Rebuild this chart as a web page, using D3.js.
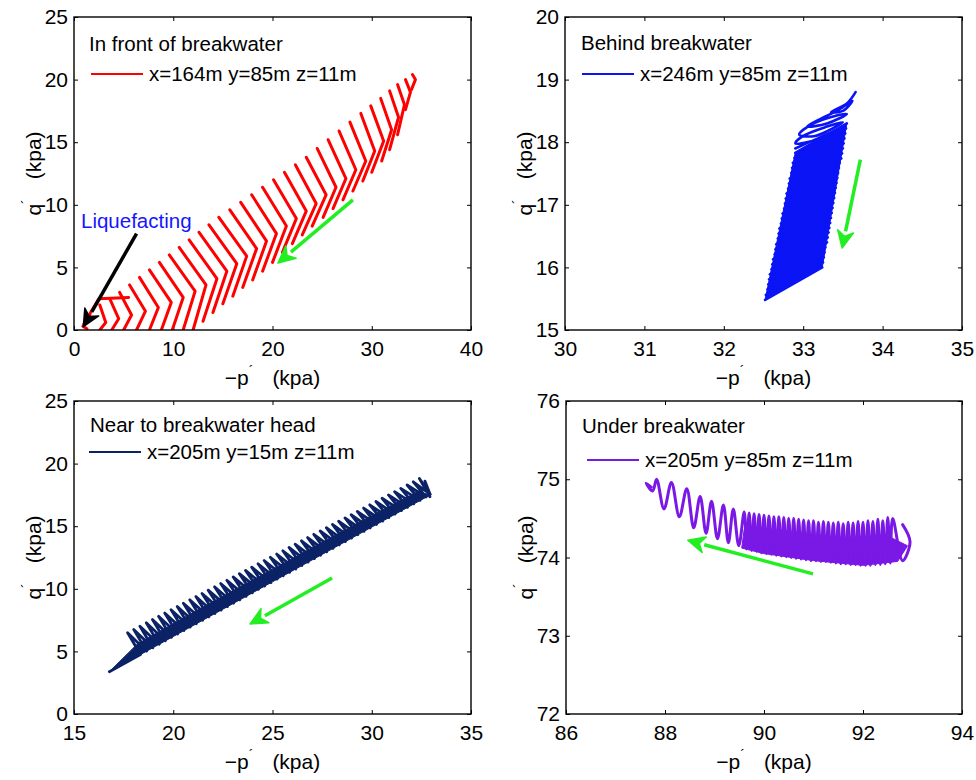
<!DOCTYPE html>
<html>
<head>
<meta charset="utf-8">
<script src="https://cdn.jsdelivr.net/npm/d3@7"></script>
<style>
  body { margin: 0; background: #fff; }
  svg { display: block; }
  text { font-family: "Liberation Sans", Arial, Helvetica, sans-serif; fill: #000; }
</style>
</head>
<body>
<script>
// ---------- data ----------

// panel 1: in front of breakwater, one chevron per cycle [upper tip, vertex, lower end]
const frontTicksX = [0, 10, 20, 30, 40];
const frontTicksY = [0, 5, 10, 15, 20, 25];
const frontCycles = [
  [[34.1, 20.4], [34.4, 20.0], [34.0, 19.2]],
  [[33.4, 20.0], [33.9, 19.0], [33.4, 17.6]],
  [[32.6, 19.6], [33.3, 18.0], [32.6, 15.6]],
  [[31.8, 19.1], [32.7, 17.0], [31.8, 14.4]],
  [[30.9, 18.5], [32.0, 16.0], [31.0, 13.5]],
  [[29.9, 17.9], [31.2, 15.1], [30.0, 12.6]],
  [[28.9, 17.3], [30.3, 14.3], [29.1, 11.9]],
  [[27.8, 16.6], [29.4, 13.5], [28.1, 11.1]],
  [[26.7, 15.9], [28.4, 12.8], [27.1, 10.4]],
  [[25.6, 15.2], [27.4, 12.1], [26.1, 9.7]],
  [[24.5, 14.5], [26.4, 11.4], [25.1, 9.0]],
  [[23.4, 13.8], [25.4, 10.8], [24.0, 8.3]],
  [[22.3, 13.2], [24.4, 10.1], [23.0, 7.6]],
  [[21.2, 12.6], [23.4, 9.5], [22.0, 6.9]],
  [[20.1, 12.0], [22.4, 8.9], [21.0, 6.2]],
  [[19.0, 11.4], [21.4, 8.3], [20.0, 5.4]],
  [[17.9, 10.8], [20.4, 7.7], [19.0, 4.7]],
  [[16.8, 10.2], [19.4, 7.1], [18.0, 4.0]],
  [[15.7, 9.6], [18.4, 6.5], [17.0, 3.4]],
  [[14.6, 9.0], [17.4, 5.9], [16.0, 2.7]],
  [[13.6, 8.4], [16.4, 5.3], [15.0, 2.1]],
  [[12.6, 7.8], [15.4, 4.7], [14.0, 1.4]],
  [[11.6, 7.2], [14.4, 4.1], [13.0, 0.7]],
  [[10.6, 6.6], [13.3, 3.6], [12.0, 0.0]],
  [[9.6, 6.0], [12.2, 3.1], [11.0, 0.0]],
  [[8.6, 5.4], [11.0, 2.6], [9.9, 0.0]],
  [[7.6, 4.8], [9.8, 2.2], [8.8, 0.0]],
  [[6.6, 4.2], [8.5, 1.8], [7.6, 0.0]],
  [[5.6, 3.6], [7.2, 1.5], [6.3, 0.0]],
  [[4.6, 3.0], [5.8, 1.2], [5.0, 0.0]],
  [[3.6, 2.5], [4.5, 0.9], [3.8, 0.0]],
  [[2.6, 2.0], [3.2, 0.6], [2.6, 0.0]]
];
const frontTail = [[5.5, 2.6], [2.5, 2.5], [1.0, 0.5], [1.6, 1.2], [0.9, 0.3], [1.3, 0.1]];

// panel 2: behind breakwater, tangled start then cycles between the two edges
const behindTicksX = [30, 31, 32, 33, 34, 35];
const behindTicksY = [15, 16, 17, 18, 19, 20];
const behindStart = [
  [33.66, 18.80], [33.55, 18.62], [33.35, 18.48], [33.50, 18.50], [33.62, 18.66],
  [33.45, 18.52], [33.20, 18.36], [33.05, 18.25], [33.30, 18.30], [33.55, 18.45],
  [33.40, 18.42], [33.10, 18.28], [32.95, 18.12], [33.15, 18.10], [33.50, 18.32],
  [33.30, 18.25], [33.00, 18.10], [32.90, 17.98], [33.20, 18.05], [33.52, 18.25],
  [32.90, 17.90]
];
const behindLeft = [
  [32.90, 17.83], [32.89, 17.75], [32.87, 17.67], [32.86, 17.59], [32.85, 17.51],
  [32.83, 17.42], [32.82, 17.34], [32.81, 17.26], [32.79, 17.18], [32.78, 17.10],
  [32.77, 17.02], [32.76, 16.94], [32.74, 16.86], [32.73, 16.78], [32.72, 16.70],
  [32.70, 16.62], [32.69, 16.54], [32.68, 16.46], [32.66, 16.37], [32.65, 16.29],
  [32.64, 16.21], [32.62, 16.13], [32.61, 16.05], [32.60, 15.97], [32.58, 15.89],
  [32.57, 15.81], [32.56, 15.73], [32.55, 15.65], [32.53, 15.56], [32.52, 15.48]
];
const behindRight = [
  [33.55, 18.30], [33.54, 18.22], [33.53, 18.14], [33.52, 18.06], [33.51, 17.98],
  [33.50, 17.90], [33.49, 17.82], [33.48, 17.74], [33.46, 17.67], [33.45, 17.59],
  [33.44, 17.51], [33.43, 17.43], [33.42, 17.35], [33.41, 17.27], [33.40, 17.19],
  [33.39, 17.11], [33.38, 17.03], [33.37, 16.95], [33.36, 16.87], [33.35, 16.79],
  [33.34, 16.71], [33.33, 16.63], [33.32, 16.56], [33.31, 16.48], [33.30, 16.40],
  [33.28, 16.32], [33.27, 16.24], [33.26, 16.16], [33.25, 16.08], [33.24, 16.00]
];
// outline of the region the overlapping cycles cover completely
const behindDense = [[32.90, 17.83], [33.55, 18.30], [33.24, 16.00], [32.52, 15.48], [32.90, 17.83]];

// panel 3: near to breakwater head, upper tips and lower turning points per cycle
const headTicksX = [15, 20, 25, 30, 35];
const headTicksY = [0, 5, 10, 15, 20, 25];
const headStart = [[32.93, 17.60], [32.68, 18.60], [32.93, 17.35]];
const headTop = [
  [32.40, 18.81], [32.09, 18.55], [31.78, 18.29], [31.46, 18.02], [31.15, 17.76],
  [30.84, 17.50], [30.52, 17.23], [30.21, 16.97], [29.90, 16.71], [29.59, 16.45],
  [29.27, 16.18], [28.96, 15.92], [28.65, 15.66], [28.33, 15.40], [28.02, 15.14],
  [27.71, 14.88], [27.40, 14.62], [27.08, 14.35], [26.77, 14.09], [26.46, 13.83],
  [26.14, 13.56], [25.83, 13.30], [25.52, 13.04], [25.21, 12.78], [24.89, 12.52],
  [24.58, 12.26], [24.27, 12.00], [23.95, 11.73], [23.64, 11.47], [23.33, 11.21],
  [23.02, 10.95], [22.70, 10.68], [22.39, 10.42], [22.08, 10.16], [21.76, 9.89],
  [21.45, 9.63], [21.14, 9.38], [20.83, 9.12], [20.51, 8.85], [20.20, 8.59],
  [19.89, 8.33], [19.57, 8.06], [19.26, 7.80], [18.95, 7.54], [18.64, 7.28],
  [18.32, 7.01], [18.01, 6.75], [17.70, 6.49]
];
const headBottom = [
  [32.95, 17.55], [32.74, 17.33], [32.43, 17.06], [32.11, 16.78], [31.80, 16.51],
  [31.49, 16.24], [31.17, 15.96], [30.86, 15.68], [30.55, 15.41], [30.24, 15.14],
  [29.92, 14.86], [29.61, 14.59], [29.30, 14.32], [28.98, 14.05], [28.67, 13.77],
  [28.36, 13.50], [28.05, 13.23], [27.73, 12.95], [27.42, 12.68], [27.11, 12.41],
  [26.79, 12.13], [26.48, 11.86], [26.17, 11.58], [25.86, 11.31], [25.54, 11.04],
  [25.23, 10.77], [24.92, 10.50], [24.60, 10.22], [24.29, 9.95], [23.98, 9.67],
  [23.67, 9.40], [23.35, 9.12], [23.04, 8.85], [22.73, 8.58], [22.41, 8.30],
  [22.10, 8.03], [21.79, 7.76], [21.48, 7.49], [21.16, 7.21], [20.85, 6.94],
  [20.54, 6.67], [20.22, 6.39], [19.91, 6.12], [19.60, 5.85], [19.29, 5.57],
  [18.97, 5.29], [18.66, 5.02], [18.35, 4.75]
];
const headEnd = [[16.78, 3.38]];
const headDense = [
  [16.78, 3.38], [18.2, 5.6], [21.0, 8.1], [25.0, 11.55], [29.0, 15.0], [32.3, 17.75],
  [32.95, 17.5], [30.0, 14.93], [25.0, 10.56], [20.0, 6.19], [16.78, 3.38]
];

// panel 4: under breakwater, loop tops and loop bottoms
const underTicksX = [86, 88, 90, 92, 94];
const underTicksY = [72, 73, 74, 75, 76];
const underStart = [[92.80, 74.42], [92.95, 74.20], [92.80, 73.96]];
const underTop = [
  [92.60, 74.50], [92.50, 74.51], [92.40, 74.47], [92.30, 74.49], [92.20, 74.46],
  [92.10, 74.47], [92.00, 74.45], [91.90, 74.46], [91.80, 74.44], [91.70, 74.45],
  [91.60, 74.43], [91.50, 74.45], [91.40, 74.44], [91.30, 74.45], [91.20, 74.46],
  [91.10, 74.45], [91.00, 74.47], [90.90, 74.47], [90.80, 74.48], [90.70, 74.49],
  [90.60, 74.50], [90.50, 74.50], [90.40, 74.51], [90.30, 74.52], [90.20, 74.52],
  [90.10, 74.53], [90.00, 74.54], [89.90, 74.55], [89.80, 74.56], [89.70, 74.57],
  [89.60, 74.58], [89.38, 74.62], [89.18, 74.67], [88.94, 74.72], [88.71, 74.78],
  [88.44, 74.88], [88.13, 74.96], [87.83, 75.00]
];
const underBottom = [
  [92.55, 73.93], [92.45, 73.92], [92.35, 73.91], [92.25, 73.91], [92.15, 73.90],
  [92.05, 73.90], [91.95, 73.90], [91.85, 73.91], [91.75, 73.91], [91.65, 73.92],
  [91.55, 73.92], [91.45, 73.93], [91.35, 73.94], [91.25, 73.95], [91.15, 73.95],
  [91.05, 73.96], [90.95, 73.96], [90.85, 73.97], [90.75, 73.98], [90.65, 73.99],
  [90.55, 74.00], [90.45, 74.01], [90.35, 74.02], [90.25, 74.03], [90.15, 74.04],
  [90.05, 74.05], [89.95, 74.06], [89.85, 74.08], [89.75, 74.09], [89.65, 74.11],
  [89.49, 74.15], [89.28, 74.19], [89.06, 74.24], [88.83, 74.31], [88.58, 74.38],
  [88.29, 74.52], [87.98, 74.62]
];
const underEnd = [[87.75, 74.85], [87.62, 74.95], [87.72, 74.90]];
const underDense = [
  [89.55, 74.12], [89.6, 74.36], [90.5, 74.28], [91.5, 74.22], [92.55, 74.26],
  [92.9, 74.15], [92.7, 73.95], [92.0, 73.90], [91.0, 73.96], [90.0, 74.05], [89.55, 74.12]
];

// annotation arrows [from, to] in data units
const frontArrow = [[28.1, 10.4], [20.55, 5.35]];
const frontLiqArrow = [[6.3, 7.7], [0.94, 0.26]];
const behindArrow = [[33.72, 17.72], [33.49, 16.31]];
const headArrow = [[28.0, 10.86], [23.87, 7.19]];
const underArrow = [[90.99, 73.79], [88.46, 74.22]];

// ---------- helpers to build the paths from the arrays ----------
function zig(a, b) {
  const out = [];
  a.forEach((p, i) => { out.push(p); if (b[i]) out.push(b[i]); });
  return out;
}
const lin = d3.curveLinear, smooth = d3.curveCatmullRom;

const panels = [
  {
    box: { x: 74, y: 17, w: 397, h: 313 },
    xDom: [0, 40], yDom: [0, 25], xTicks: frontTicksX, yTicks: frontTicksY,
    title: "In front of breakwater", legend: "x=164m y=85m z=11m", color: "#ff0000",
    titlePos: [89, 51], legPos: [91, 143, 74, 149, 81],
    paths: frontCycles.map(c => ({ pts: c, curve: lin })).concat([{ pts: frontTail, curve: lin }]),
    width: 3, areas: [],
    arrows: [{ pts: frontArrow, color: "#22ee22" }, { pts: frontLiqArrow, color: "#000" }]
  },
  {
    box: { x: 565, y: 17, w: 397, h: 313 },
    xDom: [30, 35], yDom: [15, 20], xTicks: behindTicksX, yTicks: behindTicksY,
    title: "Behind breakwater", legend: "x=246m y=85m z=11m", color: "#0a14f5",
    titlePos: [581, 50], legPos: [582, 634, 74, 640, 81],
    paths: [{ pts: behindStart, curve: smooth }, { pts: zig(behindLeft, behindRight), curve: lin }],
    width: 2.6, areas: [behindDense],
    arrows: [{ pts: behindArrow, color: "#22ee22" }]
  },
  {
    box: { x: 74, y: 401, w: 397, h: 313 },
    xDom: [15, 35], yDom: [0, 25], xTicks: headTicksX, yTicks: headTicksY,
    title: "Near to breakwater head", legend: "x=205m y=15m z=11m", color: "#0c2266",
    titlePos: [90, 432], legPos: [89, 141, 452, 147, 459],
    paths: [{ pts: headStart.concat(zig(headTop, headBottom), headEnd), curve: lin }],
    width: 2.8, areas: [headDense],
    arrows: [{ pts: headArrow, color: "#22ee22" }]
  },
  {
    box: { x: 566, y: 401, w: 396, h: 313 },
    xDom: [86, 94], yDom: [72, 76], xTicks: underTicksX, yTicks: underTicksY,
    title: "Under breakwater", legend: "x=205m y=85m z=11m", color: "#7a18e6",
    titlePos: [582, 433], legPos: [587, 639, 460, 645, 467],
    paths: [{ pts: underStart.concat(zig(underTop, underBottom), underEnd), curve: smooth }],
    width: 3, areas: [underDense],
    arrows: [{ pts: underArrow, color: "#22ee22" }]
  }
];

const svg = d3.select("body").append("svg")
  .attr("width", 976).attr("height", 780);

const defs = svg.append("defs");

panels.forEach((pn, idx) => {
  const b = pn.box;
  const x = d3.scaleLinear().domain(pn.xDom).range([b.x, b.x + b.w]);
  const y = d3.scaleLinear().domain(pn.yDom).range([b.y + b.h, b.y]);
  const g = svg.append("g");

  defs.append("clipPath").attr("id", "clip" + idx)
    .append("rect").attr("x", b.x).attr("y", b.y).attr("width", b.w).attr("height", b.h);

  // axes, ticks pointing inwards on all four sides
  const styleAxis = sel => {
    sel.select(".domain").remove();
    sel.selectAll(".tick line").attr("stroke", "#000").attr("stroke-width", 1);
    sel.selectAll("text").attr("font-size", 21).attr("fill", "#000");
  };
  const fmt = d3.format("d");
  g.append("g").attr("transform", `translate(0,${b.y + b.h})`)
    .call(d3.axisBottom(x).tickValues(pn.xTicks).tickFormat(fmt).tickSizeInner(-4).tickSizeOuter(0).tickPadding(11))
    .call(styleAxis);
  g.append("g").attr("transform", `translate(0,${b.y})`)
    .call(d3.axisTop(x).tickValues(pn.xTicks).tickSizeInner(-4).tickSizeOuter(0).tickFormat(""))
    .call(styleAxis);
  g.append("g").attr("transform", `translate(${b.x},0)`)
    .call(d3.axisLeft(y).tickValues(pn.yTicks).tickFormat(fmt).tickSizeInner(-4).tickSizeOuter(0).tickPadding(6))
    .call(styleAxis);
  g.append("g").attr("transform", `translate(${b.x + b.w},0)`)
    .call(d3.axisRight(y).tickValues(pn.yTicks).tickSizeInner(-4).tickSizeOuter(0).tickFormat(""))
    .call(styleAxis);

  // stress path
  const toXY = d => [x(d[0]), y(d[1])];
  const plot = g.append("g").attr("clip-path", `url(#clip${idx})`);
  plot.selectAll("path.dense").data(pn.areas).join("path")
    .attr("class", "dense")
    .attr("d", d => d3.line()(d.map(toXY)))
    .attr("fill", pn.color).attr("stroke", pn.color).attr("stroke-width", 1);
  plot.selectAll("path.cyc").data(pn.paths).join("path")
    .attr("class", "cyc")
    .attr("d", d => d3.line().curve(d.curve)(d.pts.map(toXY)))
    .attr("fill", "none")
    .attr("stroke", pn.color)
    .attr("stroke-width", pn.width)
    .attr("stroke-linejoin", "round")
    .attr("stroke-linecap", "round");

  // arrows
  pn.arrows.forEach(a => {
    const [p0, p1] = a.pts;
    const x0 = x(p0[0]), y0 = y(p0[1]), x1 = x(p1[0]), y1 = y(p1[1]);
    const ang = Math.atan2(y1 - y0, x1 - x0);
    const len = 17, half = 8;
    const bx = x1 - len * Math.cos(ang), by = y1 - len * Math.sin(ang);
    g.append("line")
      .attr("x1", x0).attr("y1", y0).attr("x2", bx).attr("y2", by)
      .attr("stroke", a.color).attr("stroke-width", 3.5);
    const px = -Math.sin(ang), py = Math.cos(ang);
    const nx = x1 - 0.7 * len * Math.cos(ang), ny = y1 - 0.7 * len * Math.sin(ang);
    g.append("path")
      .attr("d", `M${x1},${y1}L${bx + px * half},${by + py * half}L${nx},${ny}L${bx - px * half},${by - py * half}Z`)
      .attr("fill", a.color).attr("stroke", a.color).attr("stroke-width", 1.5)
      .attr("stroke-linejoin", "round");
  });

  // frame
  g.append("rect").attr("x", b.x).attr("y", b.y).attr("width", b.w).attr("height", b.h)
    .attr("fill", "none").attr("stroke", "#000").attr("stroke-width", 1.4);

  // title and legend
  g.append("text").attr("x", pn.titlePos[0]).attr("y", pn.titlePos[1])
    .attr("font-size", 20.5).text(pn.title);
  const lp = pn.legPos;
  g.append("line").attr("x1", lp[0]).attr("x2", lp[1]).attr("y1", lp[2]).attr("y2", lp[2])
    .attr("stroke", pn.color).attr("stroke-width", 2.2);
  g.append("text").attr("x", lp[3]).attr("y", lp[4])
    .attr("font-size", 20.5).text(pn.legend);

  // axis labels
  const xl = g.append("text").attr("x", b.x + b.w / 2).attr("y", b.y + b.h + 55)
    .attr("text-anchor", "middle").attr("font-size", 21);
  xl.append("tspan").text("\u2212p");
  xl.append("tspan").attr("dy", -9).attr("font-size", 14).text("\u00b4");
  xl.append("tspan").attr("dy", 9).attr("dx", 19).text("(kpa)");

  const yl = g.append("text")
    .attr("transform", `translate(${b.x - 33},${b.y + b.h / 2}) rotate(-90)`)
    .attr("text-anchor", "middle").attr("font-size", 21);
  yl.append("tspan").text("q");
  yl.append("tspan").attr("dy", -9).attr("font-size", 14).text("\u00b4");
  yl.append("tspan").attr("dy", 9).attr("dx", 20).text("(kpa)");
});

// annotation text in panel 1
svg.append("text").attr("x", 81).attr("y", 228)
  .attr("font-size", 20.5).style("fill", "#1515ff").text("Liquefacting");
</script>
</body>
</html>
